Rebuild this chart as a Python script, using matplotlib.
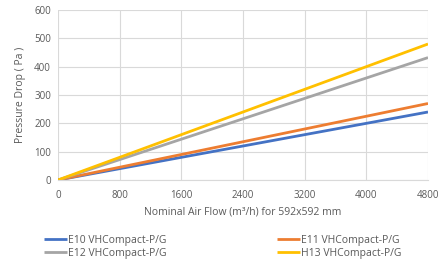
import matplotlib.pyplot as plt
import numpy as np

plt.rcParams['font.family'] = ['Open Sans', 'DejaVu Sans']

# air flow (m3/h) and pressure drop (Pa) per filter class
flow = [0, 800, 1600, 2400, 3200, 4000, 4800]
e10 = [0, 40, 80, 120, 160, 200, 240]
e11 = [0, 45, 90, 135, 180, 225, 270]
e12 = [0, 72, 144, 216, 288, 360, 432]
h13 = [0, 80, 160, 240, 320, 400, 480]
labels = ['E10 VHCompact-P/G', 'E11 VHCompact-P/G', 'E12 VHCompact-P/G', 'H13 VHCompact-P/G']
colors = ['#4472C4', '#ED7D31', '#A5A5A5', '#FFC000']

txt = '#595959'
fig = plt.figure(figsize=(4.45, 2.67), dpi=100)
ax = fig.add_axes([58 / 445, 1 - 180 / 267, (428 - 58) / 445, (180 - 10) / 267])

lines = []
for ys, lab, c in zip([e10, e11, e12, h13], labels, colors):
    ln, = ax.plot(flow, ys, color=c, lw=2.0, label=lab, solid_capstyle='butt')
    lines.append(ln)

ax.set_xlim(0, 4800)
ax.set_ylim(0, 600)
ax.set_xticks(flow)
ax.set_yticks(range(0, 601, 100))
ax.grid(True, color='#D9D9D9', lw=0.8)
ax.set_axisbelow(True)
for s in ['top', 'right', 'left']:
    ax.spines[s].set_visible(False)
ax.spines['bottom'].set_color('#D9D9D9')
ax.tick_params(length=0, labelsize=7, colors=txt, pad=5)
ax.tick_params(axis='x', pad=7)
ax.set_xlabel('Nominal Air Flow (m³/h) for 592x592 mm', fontsize=7.5, color=txt, labelpad=4)
ax.set_ylabel('Pressure Drop ( Pa )', fontsize=7.5, color=txt, labelpad=6)

# legend is filled column by column, reorder so rows read E10 E11 / E12 H13
order = [0, 2, 1, 3]
fig.legend([lines[i] for i in order], [labels[i] for i in order],
           loc='center', bbox_to_anchor=(0.5, 1 - 247 / 267), ncol=2, frameon=False,
           fontsize=7.5, labelcolor=txt, handlelength=2.2, handletextpad=0.1,
           columnspacing=10.6, labelspacing=0.2, borderaxespad=0)

fig.savefig('out.png', dpi=100)
